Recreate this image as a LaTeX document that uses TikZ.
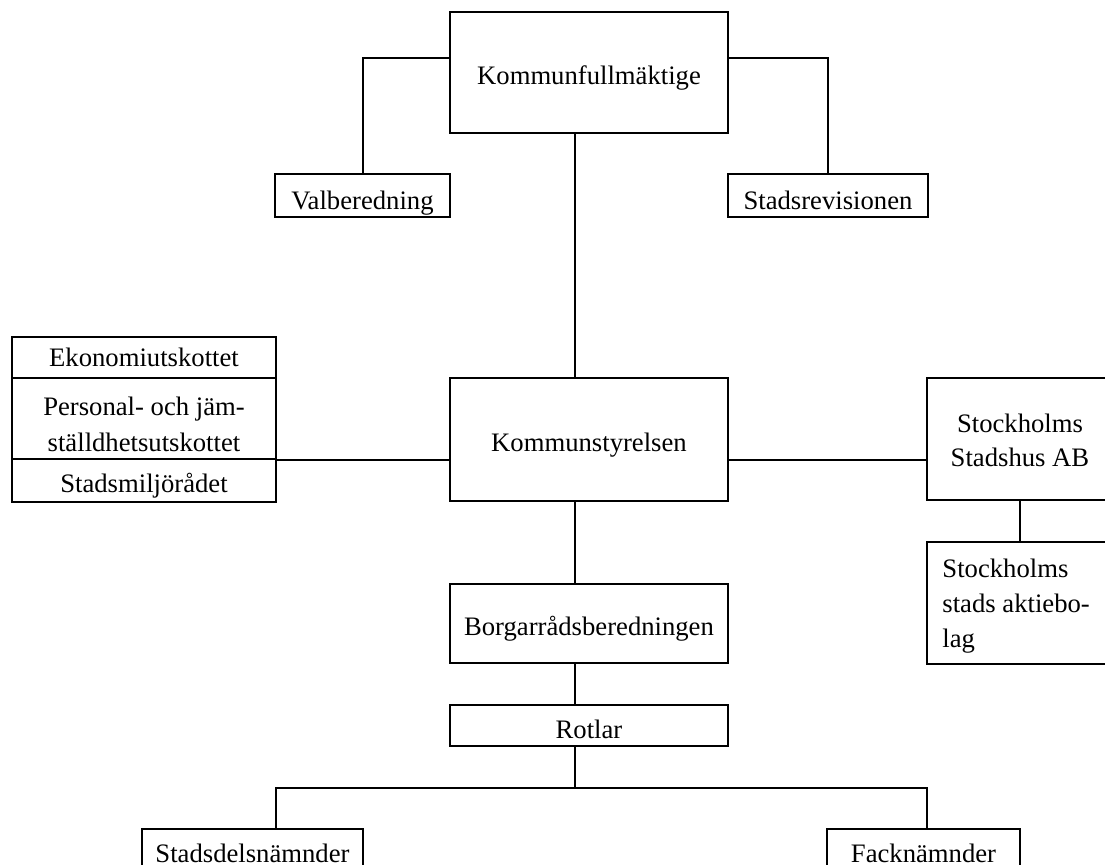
\documentclass[tikz,border=0pt]{standalone}
\usepackage{fontspec}
\setmainfont{Liberation Serif}
\usetikzlibrary{fit}
\begin{document}
\begin{tikzpicture}[x=0.45pt,y=-0.45pt,
  box/.style={draw,line width=0.9pt,inner sep=0pt,rectangle},
  txt/.style={inner sep=0pt,font=\fontsize{12}{16}\selectfont},
  con/.style={line width=0.9pt}]
\clip (0,0) rectangle (1105,865);
% boxes
\node[box,fit={(450,12) (728,133)}] (kf) {};
\node[box,fit={(275,174) (450,217)}] (val) {};
\node[box,fit={(728,174) (928,217)}] (rev) {};
\node[box,fit={(450,378) (728,501)}] (ks) {};
\node[box,fit={(12,337) (276,378)}] (ek) {};
\node[box,fit={(12,378) (276,459)}] (pj) {};
\node[box,fit={(12,459) (276,502)}] (sm) {};
\node[box,fit={(927,378) (1113,500)}] (sh) {};
\node[box,fit={(927,542) (1113,664)}] (ab) {};
\node[box,fit={(450,584) (728,663)}] (br) {};
\node[box,fit={(450,705) (728,746)}] (rot) {};
\node[box,fit={(142,829) (363,900)}] (sd) {};
\node[box,fit={(827,829) (1020,900)}] (fk) {};
% texts
\node[txt,anchor=base] (kf-t) at (589,85) {Kommunfullmäktige};
\node[txt,anchor=base] (val-t) at (362.5,210) {Valberedning};
\node[txt,anchor=base] (rev-t) at (828,210) {Stadsrevisionen};
\node[txt,anchor=base] (ks-t) at (589,452) {Kommunstyrelsen};
\node[txt,anchor=base] (ek-t) at (144,367) {Ekonomiutskottet};
\node[txt,anchor=base] (pj-t1) at (144,416) {Personal- och jäm-};
\node[txt,anchor=base] (pj-t2) at (144,452) {ställdhetsutskottet};
\node[txt,anchor=base] (sm-t) at (144,493) {Stadsmiljörådet};
\node[txt,anchor=base] (sh-t1) at (1020,433) {Stockholms};
\node[txt,anchor=base] (sh-t2) at (1020,467) {Stadshus AB};
\node[txt,anchor=base west] (ab-t1) at (942,577) {Stockholms};
\node[txt,anchor=base west] (ab-t2) at (942,612) {stads aktiebo-};
\node[txt,anchor=base west] (ab-t3) at (942,647) {lag};
\node[txt,anchor=base] (br-t) at (589,636) {Borgarrådsberedningen};
\node[txt,anchor=base] (rot-t) at (589,738) {Rotlar};
\node[txt,anchor=base] (sd-t) at (252.5,862) {Stadsdelsnämnder};
\node[txt,anchor=base] (fk-t) at (923.5,862) {Facknämnder};
% helper coordinates
\coordinate (topy) at (0,58);
\coordinate (mx) at (575,0);
\coordinate (hy) at (0,788);
\coordinate (dl) at (276,788);
\coordinate (dr) at (927,788);
\coordinate (dm) at (575,788);
% connectors
\draw[con] (kf.west |- topy) -| (val.north);
\draw[con] (kf.east |- topy) -| (rev.north);
\draw[con] (kf.south -| mx) -- (ks.north -| mx);
\draw[con] (ks.west |- pj.south east) -- (pj.south east);
\draw[con] (ks.east |- pj.south east) -- (sh.west |- pj.south east);
\draw[con] (sh.south) -- (ab.north);
\draw[con] (ks.south -| mx) -- (br.north -| mx);
\draw[con] (br.south -| mx) -- (rot.north -| mx);
\draw[con] (rot.south -| mx) -- (dm);
\draw[con] (sd.north -| dl) -- (dl) -- (dr) -- (fk.north -| dr);
\end{tikzpicture}
\end{document}
